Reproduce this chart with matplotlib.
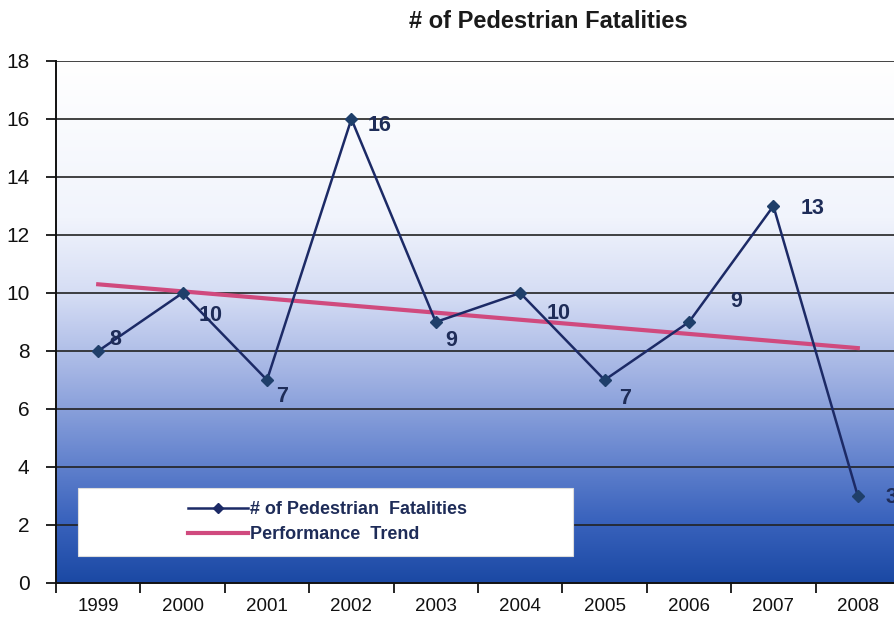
import matplotlib
matplotlib.use("Agg")
import matplotlib.pyplot as plt
import numpy as np
from matplotlib.colors import LinearSegmentedColormap
from matplotlib.lines import Line2D
from matplotlib.patches import Rectangle

years = ["1999", "2000", "2001", "2002", "2003", "2004", "2005", "2006", "2007", "2008"]
fatalities = [8, 10, 7, 16, 9, 10, 7, 9, 13, 3]
trend_ends = [10.3, 8.1]
y_ticks = [0, 2, 4, 6, 8, 10, 12, 14, 16, 18]

# label offsets in points (dx, dy) per point
label_offsets = [(12, 8), (20, -16), (11, -12), (20, -5), (11, -13),
                 (28, -15), (15, -13), (34, 15), (28, -2), (24, -1)]

NAVY = "#1c2a66"
PINK = "#d04a7e"
plt.rcParams["font.family"] = ["Liberation Sans", "DejaVu Sans"]

fig = plt.figure(figsize=(8.94, 6.35), dpi=100)
ax = fig.add_axes([56 / 894, 1 - 583 / 635, 844 / 894, 522 / 635])

x = np.arange(len(years))
ax.set_xlim(-0.5, len(years) - 0.5)
ax.set_ylim(0, 18)

# gradient background
grad = LinearSegmentedColormap.from_list(
    "bg",
    [(0.0, "#1b49a4"), (0.12, "#3a63bd"), (0.25, "#6a88d0"),
     (0.4, "#a2b3e3"), (0.55, "#d4dcf4"), (0.7, "#f1f4fc"), (1.0, "#ffffff")],
)
ax.imshow(np.linspace(0, 1, 256).reshape(-1, 1), cmap=grad, aspect="auto",
          origin="lower", extent=[-0.5, len(years) - 0.5, 0, 18], zorder=0)

for v in y_ticks[1:]:
    ax.axhline(v, color="#222222", lw=1.2, zorder=1)

ax.plot([x[0], x[-1]], trend_ends, color=PINK, lw=3, zorder=2)
ax.plot(x, fatalities, color=NAVY, lw=1.8, marker="D", ms=6,
        markerfacecolor="#1f3f6a", markeredgecolor="#1f3f6a", zorder=3)

for xi, v, (dx, dy) in zip(x, fatalities, label_offsets):
    ax.annotate(str(v), (xi, v), xytext=(dx, dy), textcoords="offset points",
                ha="center", va="center", fontsize=15.5, fontweight="bold",
                color="#1e2c58", zorder=4, annotation_clip=False)

ax.set_yticks(y_ticks)
ax.set_yticklabels([str(t) for t in y_ticks], fontsize=15, color="#111111")
ax.set_xticks(np.arange(-0.5, len(years), 1.0))
ax.set_xticklabels([])
ax.set_xticks(x, minor=True)
ax.set_xticklabels(years, minor=True, fontsize=13.5, color="#111111")
ax.tick_params(axis="x", which="minor", length=0, pad=11)
ax.tick_params(axis="x", which="major", length=7, width=1.2, direction="out")
ax.tick_params(axis="y", length=7, width=1.2, pad=12)

for side in ["top", "right"]:
    ax.spines[side].set_visible(False)
for side in ["left", "bottom"]:
    ax.spines[side].set_linewidth(1.4)
    ax.spines[side].set_color("#111111")

# legend: white box with entries
ax.add_patch(Rectangle((78 / 894, 1 - 556 / 635), 495 / 894, 68 / 635,
                       transform=fig.transFigure, facecolor="white",
                       edgecolor="#dddddd", lw=0.8, zorder=5))
handles = [
    Line2D([], [], color=NAVY, lw=1.8, marker="D", ms=5),
    Line2D([], [], color=PINK, lw=3),
]
leg = ax.legend(handles, ["# of Pedestrian  Fatalities", "Performance  Trend"],
                loc="center left", bbox_to_anchor=(172 / 894, 1 - 522 / 635),
                bbox_transform=fig.transFigure, frameon=False,
                handlelength=3.3, handletextpad=0.1, labelspacing=0.45,
                prop={"weight": "bold", "size": 13})
leg.set_zorder(6)
for t in leg.get_texts():
    t.set_color("#1e2c58")

fig.text(548 / 894, 1 - 21 / 635, "# of Pedestrian Fatalities", ha="center", va="center",
         fontsize=17, fontweight="bold", color="#1a1a1a")

fig.savefig("out.png", dpi=100)
